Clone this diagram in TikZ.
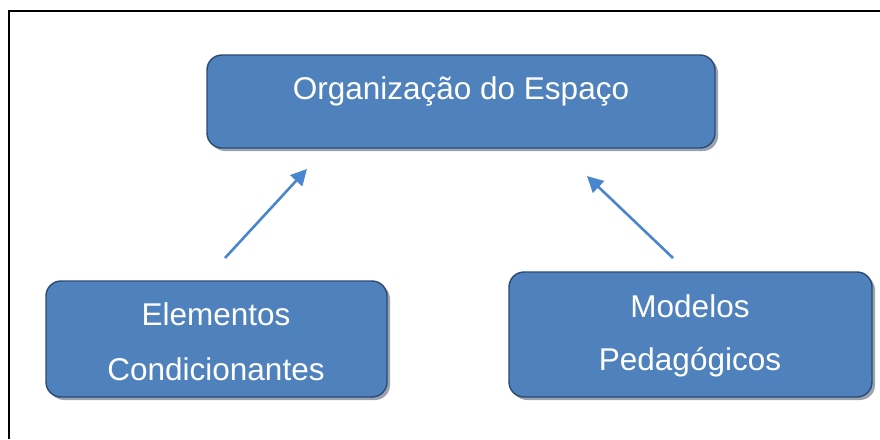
\documentclass[tikz,border=0pt]{standalone}
\usepackage{fontspec}
\setmainfont{Liberation Sans}
\usetikzlibrary{arrows.meta,shadows}
\definecolor{boxfill}{HTML}{4F81BD}
\definecolor{boxline}{HTML}{2A4A72}
\definecolor{arrowc}{HTML}{4A86CF}
\definecolor{shadowc}{HTML}{9AA3AF}
\begin{document}
\begin{tikzpicture}[x=1pt,y=-1pt,
  box/.style={draw=boxline,line width=1.4pt,fill=boxfill,rounded corners=15pt,
    inner sep=0pt,
    drop shadow={shadow xshift=3pt,shadow yshift=-3pt,fill=shadowc,opacity=1}},
  txt/.style={text=white,anchor=base,inner sep=0pt,font=\fontsize{31.5}{38}\selectfont},
  conn/.style={draw=arrowc,line width=2.6pt,-{Triangle[length=16pt,width=16pt]}}]
\useasboundingbox (0,0) rectangle (880,439);
\draw[line width=2pt,black] (8.5,439) -- (8.5,10.5) -- (880,10.5);
% boxes
\node[box,minimum width=508pt,minimum height=93pt] (top) at (461,101.5) {};
\node[box,minimum width=341pt,minimum height=116pt] (left) at (216.5,339) {};
\node[box,minimum width=363pt,minimum height=125pt] (right) at (690.5,334.5) {};
% texts
\node[txt] (t1) at (461,99) {Organização do Espaço};
\node[txt] (l1) at (216,325) {Elementos};
\node[txt] (l2) at (216,380) {Condicionantes};
\node[txt] (r1) at (690,317) {Modelos};
\node[txt] (r2) at (690,370) {Pedagógicos};
% arrows
\coordinate (a1s) at (225,258);
\coordinate (a1e) at (307,169);
\coordinate (a2s) at (673,258);
\coordinate (a2e) at (587,176);
\draw[conn] (a1s) -- (a1e);
\draw[conn] (a2s) -- (a2e);
\end{tikzpicture}
\end{document}
